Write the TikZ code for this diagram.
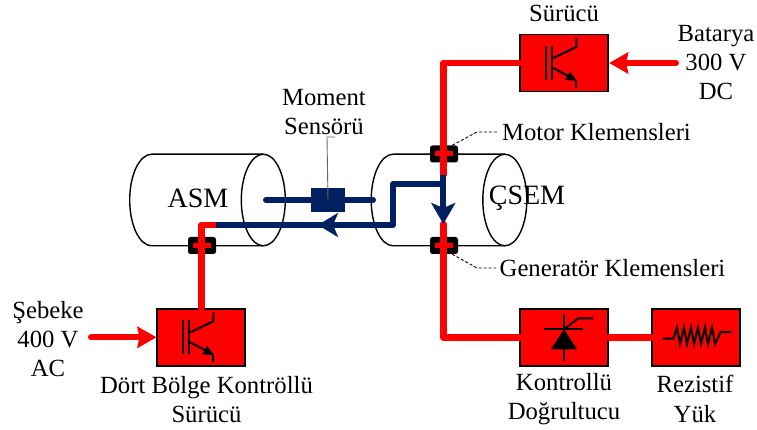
\documentclass[tikz,border=0pt]{standalone}
\usepackage{fontspec}
\setmainfont{Liberation Serif}
\usetikzlibrary{arrows.meta,positioning,calc}
\definecolor{shaftblue}{HTML}{002060}

\begin{document}
\begin{tikzpicture}[x=1pt,y=-1pt,
  every node/.style={font=\fontsize{24.7}{29.3}\selectfont,align=center},
  machinetxt/.style={font=\fontsize{28}{30}\selectfont},
  block/.style={draw=black,fill=red,line width=1.7pt,minimum width=88pt,minimum height=57pt,inner sep=0pt},
  terminal/.style={fill=black,rounded corners=2.5pt,minimum width=28pt,minimum height=17pt,inner sep=0pt},
  power/.style={draw=red,line width=6.5pt,line cap=round,line join=round},
  feed/.style={draw=red,line width=6pt,line cap=round,-{Stealth[length=19pt,width=21pt,inset=2pt]}},
  shaft/.style={draw=shaftblue,line width=6pt,line join=round},
  sense/.style={fill=shaftblue,minimum width=34pt,minimum height=24pt,inner sep=0pt},
  tick/.style={fill=red,minimum width=18pt,minimum height=5pt,inner sep=0pt},
  leader/.style={draw=black,line width=0.9pt,densely dashed},
  symbol/.style={draw=black,line width=2pt},
  igbt/.pic={
    \draw [symbol] (-18,-17) -- (-18,17);
    \draw [symbol] (-12,-17) -- (-12,17);
    \draw [symbol] (-11,-5) -- (12,-16) -- (12,-25);
    \draw [symbol] (12,17) -- (12,25);
    \draw [symbol,-{Stealth[length=11pt,width=9pt,inset=0pt]}] (-11,5) -- (13,18);
  },
  machine/.pic={
    \draw [line width=1.4pt] (55.8,-45.8) -- (-55.8,-45.8)
      arc[start angle=90,end angle=270,x radius=22pt,y radius=45.8pt] -- (55.8,45.8);
    \draw [line width=1.4pt] (55.8,0) ellipse[x radius=22pt,y radius=45.8pt];
  }]
\useasboundingbox (0,0) rectangle (757,430);

% machines
\pic at (207.5,200) {machine};
\pic at (449,200) {machine};
\node (asm) at (198,198) [machinetxt] {ASM};
\node (csem) at (527,198) [machinetxt] {ÇSEM};

% blocks
\node (motordrv) at (564.3,63) [block] {};
\node (griddrv) at (201.3,337.3) [block] {};
\node (rectifier) at (564.3,337.3) [block] {};
\node (load) at (696,337.3) [block] {};
\pic at (motordrv) {igbt};
\pic at (griddrv) {igbt};

% rectifier symbol
\draw [symbol] (564,314) -- (564,360.5);
\draw [symbol] (544,329.3) -- (583.3,329.3);
\fill (564,329.3) -- (577,349.3) -- (551,349.3) -- cycle;
\draw [symbol] (564,329.3) -- (578.3,318.3) -- (593.3,318.3);

% resistor symbol
\draw [symbol] (662.7,338.7) -- (673.3,338.7) -- (677,327.5) -- (680,344) -- (684,327.5) -- (687,344)
  -- (691,327.5) -- (694,344) -- (698,327.5) -- (701,344) -- (705,327.5) -- (708,344)
  -- (712,327.5) -- (715,344) -- (720.7,332) -- (731.7,332);

% terminals
\node (motorterm) at (444,154) [terminal] {};
\node (genterm) at (444,245.5) [terminal] {};
\node (asmterm) at (202,245.5) [terminal] {};

\coordinate (motorend) at (443.3,175);
\coordinate (genend) at (443.3,224);
\coordinate (asmend) at (216,225);
\coordinate (shaftstart) at (266,200);
\coordinate (shaftend) at (373,200);
\coordinate (bend) at (393,225);
\coordinate (tip) at (318,225);
\coordinate (join) at (443.3,184);
\coordinate (gridin) at (91,337.3);
\coordinate (battin) at (676,63);

% power lines
\draw [power] (motorend) |- (motordrv.west);
\draw [power] (genend) |- (rectifier.west);
\draw [power] (griddrv.north -| 201.3,309) -- (201.3,225) -- (asmend);
\draw [power] (rectifier.east) -- (load.west);
\draw [feed] (gridin) -- (griddrv.west);
\draw [feed] (battin) -- (motordrv.east);
\node at (motorterm) [tick] {};
\node at (genterm) [tick] {};
\node at (asmterm) [tick] {};

% shaft and torque paths
\draw [shaft,line cap=round] (shaftstart) -- (shaftend);
\node (sensor) at (328,200) [sense] {};
\draw [shaft] (asmend) -- (bend) |- (join);
\draw [shaft,-{Stealth[length=20pt,width=24pt,inset=5pt]}] (bend) -- (tip);
\draw [shaft,-{Stealth[length=21pt,width=24pt,inset=5pt]}] (443.3,175) -- (genend);

% labels
\node (drvtxt) at (564,13) {Sürücü};
\node (batttxt) at (716,62.5) {Batarya\\300 V\\DC};
\node (gridtxt) at (48,339) {Şebeke\\400 V\\AC};
\node (sensortxt) at (324,112) {Moment\\Sensörü};
\node (motortxt) at (596.5,132) {Motor Klemensleri};
\node (gentxt) at (612.5,268) {Generatör Klemensleri};
\node (griddrvtxt) at (206.5,399.5) {Dört Bölge Kontröllü\\Sürücü};
\node (recttxt) at (564,399) {Kontrollü\\Doğrultucu};
\node (loadtxt) at (695,399) {Rezistif\\Yük};

% leaders
\coordinate (sensorcap) at (335,137);
\draw [draw=black!60,line width=0.9pt] (sensor.center) -- (327,137) -- (sensorcap);
\draw [leader] (motorterm.north east) ++(-6,0) -- (477,132) -- (motortxt.west);
\draw [leader] (genterm.south east) ++(-6,0) -- (477,268) -- (gentxt.west);
\end{tikzpicture}
\end{document}
